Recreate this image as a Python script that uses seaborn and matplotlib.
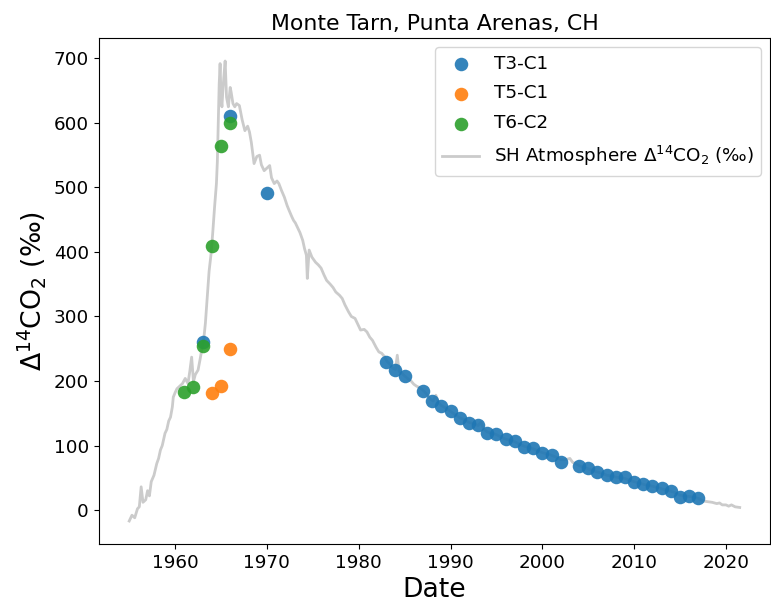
import matplotlib
matplotlib.use("Agg")
import matplotlib.pyplot as plt
import seaborn as sns
import pandas as pd

# Tree-ring cores: year of ring and measured Δ14C (‰)
t3_year = [1963, 1966, 1970, 1983, 1984, 1985, 1987, 1988, 1989, 1990, 1991, 1992,
           1993, 1994, 1995, 1996, 1997, 1998, 1999, 2000, 2001, 2002, 2004, 2005,
           2006, 2007, 2008, 2009, 2010, 2011, 2012, 2013, 2014, 2015, 2016, 2017]
t3_delta = [260, 611, 492, 230, 217, 208, 185, 169, 161, 153, 143, 135,
            132, 120, 118, 110, 107, 98, 96, 89, 85, 74, 68, 65,
            59, 54, 52, 52, 44, 40, 37, 34, 29, 21, 22, 18]

t5_year = [1964, 1965, 1966]
t5_delta = [181, 192, 249]

t6_year = [1961, 1962, 1963, 1964, 1965, 1966]
t6_delta = [183, 190, 255, 410, 565, 600]

# Southern Hemisphere atmospheric Δ14CO2 record (‰)
atm_year = [1955.0, 1955.3, 1955.6, 1955.9, 1956.1, 1956.3, 1956.5, 1956.8, 1957.0, 1957.2,
            1957.4, 1957.7, 1958.0, 1958.2, 1958.4, 1958.6, 1958.9, 1959.1, 1959.3, 1959.5,
            1959.7, 1959.8, 1960.0, 1960.2, 1960.5, 1960.8, 1961.1, 1961.4, 1961.6, 1961.8,
            1962.0, 1962.2, 1962.5, 1962.7, 1962.9, 1963.1, 1963.3, 1963.5, 1963.7, 1963.9,
            1964.1, 1964.3, 1964.5, 1964.6, 1964.7, 1964.8, 1964.9, 1965.0, 1965.1, 1965.2,
            1965.3, 1965.45, 1965.6, 1965.8, 1966.0, 1966.1, 1966.3, 1966.5, 1966.7, 1967.0,
            1967.3, 1967.6, 1967.9, 1968.1, 1968.3, 1968.6, 1968.9, 1969.2, 1969.4, 1969.7,
            1970.0, 1970.3, 1970.5, 1970.8, 1971.1, 1971.3, 1971.6, 1971.9, 1972.2, 1972.4,
            1972.7, 1972.9, 1973.1, 1973.3, 1973.6, 1973.9, 1974.1, 1974.3, 1974.4, 1974.5,
            1974.6, 1974.9, 1975.3, 1975.6, 1975.9, 1976.2, 1976.5, 1976.9, 1977.2, 1977.5,
            1977.9, 1978.2, 1978.5, 1978.9, 1979.2, 1979.6, 1979.9, 1980.2, 1980.6, 1980.9,
            1981.2, 1981.5, 1981.9, 1982.2, 1982.5, 1982.8, 1983.1, 1983.4, 1983.7, 1984.0,
            1984.2, 1984.4, 1984.7, 1985.0, 1985.4, 1985.7, 1986.0, 1986.3, 1986.6, 1986.9,
            1987.2, 1987.5, 1987.8, 1988.1, 1988.4, 1988.7, 1989.0, 1989.5, 1990.0, 1990.5,
            1991.0, 1991.5, 1992.0, 1992.5, 1993.0, 1993.3, 1993.6, 1994.0, 1994.5, 1995.0,
            1995.5, 1996.0, 1996.5, 1997.0, 1997.5, 1998.0, 1998.5, 1999.0, 1999.5, 2000.0,
            2000.5, 2001.0, 2001.5, 2002.0, 2002.5, 2003.0, 2003.3, 2003.6, 2004.0, 2004.5,
            2005.0, 2005.5, 2006.0, 2006.5, 2007.0, 2007.5, 2008.0, 2008.5, 2009.0, 2009.5,
            2010.0, 2010.5, 2011.0, 2011.5, 2012.0, 2012.5, 2013.0, 2013.5, 2014.0, 2014.5,
            2015.0, 2015.5, 2016.0, 2016.5, 2017.0, 2017.5, 2018.0, 2018.5, 2019.0, 2019.3,
            2019.6, 2020.0, 2020.3, 2020.6, 2021.0, 2021.5]
atm_delta = [-17, -8, -12, 2, 5, 36, 12, 16, 30, 22,
             44, 54, 72, 80, 93, 100, 119, 125, 138, 144,
             160, 175, 182, 188, 192, 196, 204, 196, 215, 237,
             199, 210, 217, 232, 248, 262, 290, 330, 370, 395,
             430, 470, 506, 540, 600, 660, 692, 640, 625, 650,
             670, 696, 640, 625, 655, 648, 630, 625, 630, 627,
             605, 588, 595, 586, 570, 537, 548, 550, 535, 526,
             530, 534, 515, 506, 510, 506, 495, 485, 472, 465,
             455, 449, 445, 439, 430, 418, 405, 395, 359, 380,
             403, 392, 384, 380, 375, 365, 356, 350, 345, 338,
             333, 328, 318, 307, 300, 297, 288, 279, 280, 276,
             268, 263, 252, 245, 243, 238, 230, 226, 220, 218,
             240, 215, 212, 208, 203, 200, 195, 192, 190, 187,
             183, 178, 172, 169, 178, 166, 162, 158, 153, 148,
             143, 140, 136, 134, 131, 136, 126, 121, 119, 117,
             113, 110, 108, 106, 102, 99, 97, 95, 92, 89,
             87, 85, 82, 78, 78, 80, 74, 72, 69, 66,
             64, 61, 59, 57, 54, 53, 51, 50, 49, 46,
             44, 42, 40, 38, 37, 35, 33, 31, 29, 27,
             23, 22, 21, 20, 18, 14, 13, 12, 10, 11,
             8, 8, 6, 8, 5, 4]

series = [("T3-C1", t3_year, t3_delta, "#1f77b4"),
          ("T5-C1", t5_year, t5_delta, "#ff7f0e"),
          ("T6-C2", t6_year, t6_delta, "#2ca02c")]

atm = pd.DataFrame({"Date": atm_year, "delta": atm_delta})

fig = plt.figure(figsize=(7.71, 6.09), dpi=100)
ax = fig.add_axes([0.128, 0.1067, 0.871, 0.8309])

for name, yrs, vals, col in series:
    df = pd.DataFrame({"Date": yrs, "delta": vals})
    sns.scatterplot(data=df, x="Date", y="delta", ax=ax, color=col, s=95,
                    linewidth=0, alpha=0.9, label=name, zorder=3)

sns.lineplot(data=atm, x="Date", y="delta", ax=ax, sort=False, estimator=None,
             color="#cbcbcb", linewidth=2, zorder=1,
             label="SH Atmosphere $\\Delta^{14}$CO$_2$ (‰)")

ax.set_title("Monte Tarn, Punta Arenas, CH", fontsize=15.8)
ax.set_xlabel("Date", fontsize=19.2)
ax.set_ylabel("$\\Delta^{14}$CO$_2$ (‰)", fontsize=19.2)
ax.tick_params(labelsize=13.2)
ax.set_yticks([0, 100, 200, 300, 400, 500, 600, 700])
ax.legend(loc="upper right", fontsize=13.2, labelspacing=0.65)

fig.savefig("out.png", dpi=100)
